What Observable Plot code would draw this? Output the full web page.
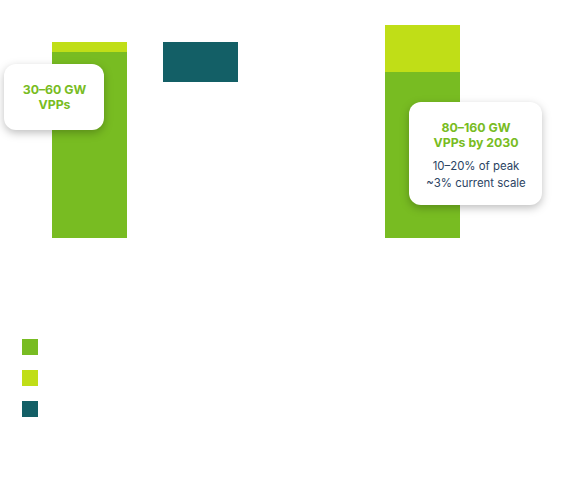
<!DOCTYPE html>
<html>
<head>
<meta charset="utf-8">
<script src="https://cdn.jsdelivr.net/npm/d3@7"></script>
<script src="https://cdn.jsdelivr.net/npm/@observablehq/plot@0.6"></script>
<style>
  body { margin: 0; background: #fff; font-family: Inter, "Noto Sans", sans-serif; }
  #chart svg { display: block; overflow: visible; }
  .legend { margin-top: 39px; padding-left: 22px; }
  .legend .item { display: flex; align-items: center; height: 16px; margin-bottom: 15px; }
  .legend .sw { width: 16px; height: 16px; display: inline-block; }
</style>
</head>
<body>
<div id="chart"></div>
<script>
// ---- data ----
const categories = ["Today", "Gap", "Path", "2030"];
const baseValues = [186, null, null, 166];      // green segment (0 -> value)
const upperValues = [10, null, null, 47];       // lime segment stacked on top
const gapCategory = "Gap";
const gapRange = [156, 196];                    // teal floating segment
const seriesNames = ["Base", "Upper", "Gap"];
const seriesColors = ["#78bc22", "#c0de17", "#135f66"];

const callouts = [
  {cat: "Today", y1: 108, y2: 174, dx: -35.5, inset: -12.5,
   head: "30–60 GW\nVPPs", headY: 141.5, sub: "", subY: 0},
  {cat: "2030", y1: 33, y2: 136, dx: 53, inset: -29,
   head: "80–160 GW\nVPPs by 2030", headY: 103.5, sub: "10–20% of peak\n~3% current scale", subY: 65.5}
];

// ---- build table ----
const segments = [];
categories.forEach((c, i) => {
  if (baseValues[i] != null) segments.push({cat: c, series: "Base", y1: 0, y2: baseValues[i]});
  if (upperValues[i] != null) segments.push({cat: c, series: "Upper", y1: baseValues[i], y2: baseValues[i] + upperValues[i]});
});
segments.push({cat: gapCategory, series: "Gap", y1: gapRange[0], y2: gapRange[1]});

const plot = Plot.plot({
  width: 568,
  height: 300,
  marginTop: 0, marginBottom: 0, marginLeft: 0, marginRight: 0,
  style: {fontFamily: "Inter, 'Noto Sans', sans-serif", background: "transparent"},
  x: {domain: categories, range: [51, 460], paddingInner: 0.326, paddingOuter: 0, axis: null},
  y: {domain: [0, 213], range: [238, 25], axis: null},
  color: {domain: seriesNames, range: seriesColors},
  marks: [
    Plot.barY(segments, {x: "cat", y1: "y1", y2: "y2", fill: "series", inset: 0}),
    ...callouts.map(c => Plot.barY([c], {
      x: "cat", y1: "y1", y2: "y2", fill: "white", rx: 12,
      dx: c.dx, insetLeft: c.inset, insetRight: c.inset
    })),
    ...callouts.map(c => Plot.text([c], {
      x: "cat", y: "headY", text: "head", dx: c.dx,
      fill: "#78bc22", fontWeight: 700, fontSize: 12.3, lineHeight: 1.22,
      textAnchor: "middle", lineAnchor: "middle"
    })),
    ...callouts.filter(c => c.sub).map(c => Plot.text([c], {
      x: "cat", y: "subY", text: "sub", dx: c.dx,
      fill: "#2b4463", fontWeight: 400, fontSize: 11.4, lineHeight: 1.49,
      textAnchor: "middle", lineAnchor: "middle"
    }))
  ]
});

d3.select(plot).selectAll("g[fill='white']")
  .style("filter", "drop-shadow(0px 3px 4px rgba(0,0,0,0.25))");

document.getElementById("chart").appendChild(plot);

// legend (swatches)
const legend = document.createElement("div");
legend.className = "legend";
seriesNames.forEach((s, i) => {
  const item = document.createElement("div");
  item.className = "item";
  item.title = s;
  const sw = document.createElement("span");
  sw.className = "sw";
  sw.style.background = seriesColors[i];
  item.appendChild(sw);
  legend.appendChild(item);
});
document.body.appendChild(legend);
</script>
</body>
</html>
